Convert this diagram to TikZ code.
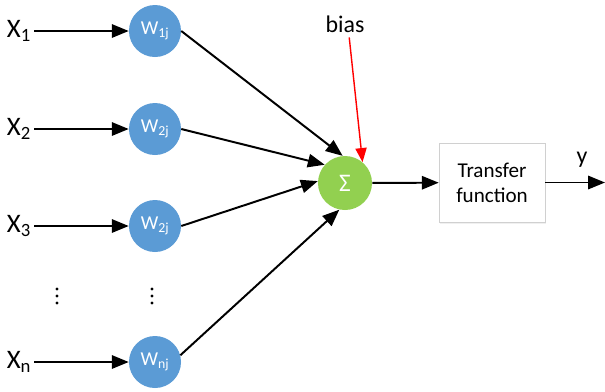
\documentclass[tikz,border=0pt]{standalone}
\usepackage{fontspec}
\setmainfont{Carlito}
\usepackage{tikz}
\usetikzlibrary{arrows.meta,shadows}

\definecolor{wblue}{HTML}{5B9BD5}
\definecolor{sgreen}{HTML}{92D050}
\definecolor{boxgray}{HTML}{D0D0D0}

\begin{document}
\begin{tikzpicture}[x=0.025cm, y=-0.025cm]
	\tikzstyle{input} = [inner sep=2pt, font=\fontsize{19}{22}\selectfont]
	\tikzstyle{weight} = [circle, fill=wblue, text=white, minimum size=1.3cm, inner sep=0pt, font=\fontsize{14}{16}\selectfont]
	\tikzstyle{sumnode} = [circle, fill=sgreen, text=white, minimum size=1.35cm, inner sep=0pt, font=\fontsize{18}{20}\selectfont]
	\tikzstyle{arr} = [line width=1.4pt, -{Triangle[length=12pt, width=9.5pt]}]
	\useasboundingbox (0,0) rectangle (605,391);
	\node[input] (x1) at (19, 31) {X\textsubscript{1}};
	\node[input] (x2) at (19, 129) {X\textsubscript{2}};
	\node[input] (x3) at (19, 226) {X\textsubscript{3}};
	\node[input] (xn) at (19, 362) {X\textsubscript{n}};
	\node[weight] (w1) at (155, 31) {W\textsubscript{1j}};
	\node[weight] (w2) at (155, 129) {W\textsubscript{2j}};
	\node[weight] (w3) at (155, 226) {W\textsubscript{2j}};
	\node[weight] (wn) at (155, 362) {W\textsubscript{nj}};
	% vertical dots
	\foreach \px in {57, 152}
		\foreach \py in {289, 296, 303}
			\fill (\px, \py) circle (1.1pt);
	\node[sumnode] (sum) at (345, 183) {Σ};
	\node[font=\fontsize{17}{20}\selectfont] (bias) at (345, 24) {bias};
	\node[draw=boxgray, fill=white, minimum width=106*0.025cm, minimum height=79*0.025cm, align=center,
		font=\fontsize{15}{18}\selectfont, drop shadow={opacity=0.12, shadow xshift=0.6pt, shadow yshift=-1.2pt}] (tf) at (492, 182.5) {Transfer\\function};
	\coordinate (out) at (605, 182.5);
	\node[font=\fontsize{17}{20}\selectfont] (y) at (582, 160) {y};
	\draw [arr] (x1) -- (w1);
	\draw [arr] (x2) -- (w2);
	\draw [arr] (x3) -- (w3);
	\draw [arr] (xn) -- (wn);
	\draw [arr] (w1.east) -- (sum.95);
	\draw [arr] (w2.east) -- (sum.138);
	\draw [arr] (w3.east) -- (sum.176);
	\draw [arr] (wn.15) -- (sum.258);
	\draw [red, line width=1pt, -{Triangle[length=10pt, width=8pt]}] ([xshift=3pt]bias.south) -- (sum.50);
	\draw [arr] (sum) -- (tf);
	\draw [arr] (tf) -- (out);
\end{tikzpicture}
\end{document}
